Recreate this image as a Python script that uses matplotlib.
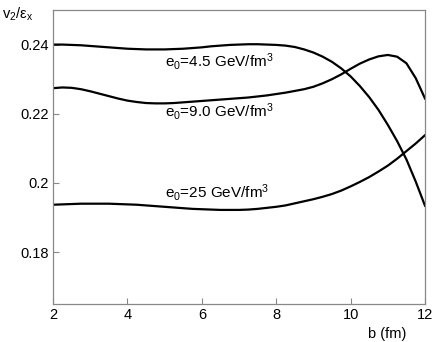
import matplotlib
matplotlib.use("Agg")
import matplotlib.pyplot as plt

plt.rcParams["font.family"] = ["Liberation Sans", "DejaVu Sans"]
plt.rcParams["mathtext.fontset"] = "custom"
plt.rcParams["mathtext.rm"] = "Liberation Sans"
plt.rcParams["mathtext.it"] = "Liberation Sans:italic"

# impact parameter b (fm)
b = [2.0, 2.25, 2.5, 2.75, 3.0, 3.25, 3.5, 3.75, 4.0, 4.25, 4.5, 4.75,
     5.0, 5.25, 5.5, 5.75, 6.0, 6.25, 6.5, 6.75, 7.0, 7.25, 7.5, 7.75,
     8.0, 8.25, 8.5, 8.75, 9.0, 9.25, 9.5, 9.75, 10.0, 10.25, 10.5, 10.75,
     11.0, 11.25, 11.5, 11.75, 12.0]

# v2/eps_x for the three initial energy densities
v_e45 = [0.2400, 0.2400, 0.2399, 0.2398, 0.2396, 0.2394, 0.2392, 0.2390,
         0.2388, 0.2387, 0.2386, 0.2386, 0.2386, 0.2387, 0.2388, 0.2390,
         0.2392, 0.2395, 0.2397, 0.2399, 0.2400, 0.2401, 0.2401, 0.2400,
         0.2399, 0.2397, 0.2393, 0.2386, 0.2377, 0.2365, 0.2350, 0.2331,
         0.2308, 0.2280, 0.2248, 0.2211, 0.2168, 0.2121, 0.2068, 0.2004,
         0.1934]
v_e90 = [0.2274, 0.2276, 0.2275, 0.2271, 0.2265, 0.2258, 0.2251, 0.2244,
         0.2238, 0.2234, 0.2231, 0.2230, 0.2230, 0.2231, 0.2233, 0.2235,
         0.2237, 0.2239, 0.2241, 0.2243, 0.2245, 0.2247, 0.2250, 0.2253,
         0.2257, 0.2261, 0.2266, 0.2271, 0.2278, 0.2288, 0.2300, 0.2314,
         0.2330, 0.2345, 0.2357, 0.2366, 0.2370, 0.2365, 0.2346, 0.2303,
         0.2244]
v_e25 = [0.1937, 0.1938, 0.1939, 0.1940, 0.1940, 0.1940, 0.1940, 0.1939,
         0.1938, 0.1937, 0.1935, 0.1933, 0.1931, 0.1929, 0.1927, 0.1925,
         0.1924, 0.1923, 0.1922, 0.1922, 0.1922, 0.1923, 0.1925, 0.1928,
         0.1931, 0.1935, 0.1941, 0.1947, 0.1953, 0.1960, 0.1968, 0.1978,
         0.1990, 0.2003, 0.2017, 0.2033, 0.2050, 0.2070, 0.2092, 0.2114,
         0.2138]

labels = [r"e$_{\rm 0}$=4.5 GeV/fm$^{\rm 3}$",
          r"e$_{\rm 0}$=9.0 GeV/fm$^{\rm 3}$",
          r"e$_{\rm 0}$=25 GeV/fm$^{\rm 3}$"]
label_pos = [(5.0, 0.2337), (5.0, 0.2191), (5.0, 0.1958)]

fig = plt.figure(figsize=(4.36, 3.42), dpi=100)
ax = fig.add_axes([0.1216, 0.1111, 0.8532, 0.8597])

for v in (v_e45, v_e90, v_e25):
    ax.plot(b, v, color="black", linewidth=1.6)

for txt, (x, y) in zip(labels, label_pos):
    ax.text(x, y, txt, fontsize=11, ha="left", va="baseline")

ax.set_xlim(2, 12)
ax.set_ylim(0.165, 0.25)
ax.set_xticks([2, 4, 6, 8, 10, 12])
ax.set_yticks([0.18, 0.2, 0.22, 0.24])
ax.set_yticklabels(["0.18", "0.2", "0.22", "0.24"])
ax.tick_params(direction="in", length=4, width=0.8, color="#888888",
               labelsize=10.5, pad=3)
for s in ax.spines.values():
    s.set_color("#888888")
    s.set_linewidth(0.9)

fig.text(0.005, 1 - 19 / 342, r"v$_{\rm 2}$/ε$_{\rm x}$", fontsize=10.5,
         ha="left", va="baseline")
fig.text(387 / 436, 1 - 338 / 342, "b (fm)", fontsize=10.5,
         ha="center", va="baseline")

fig.savefig("out.png", dpi=100)
